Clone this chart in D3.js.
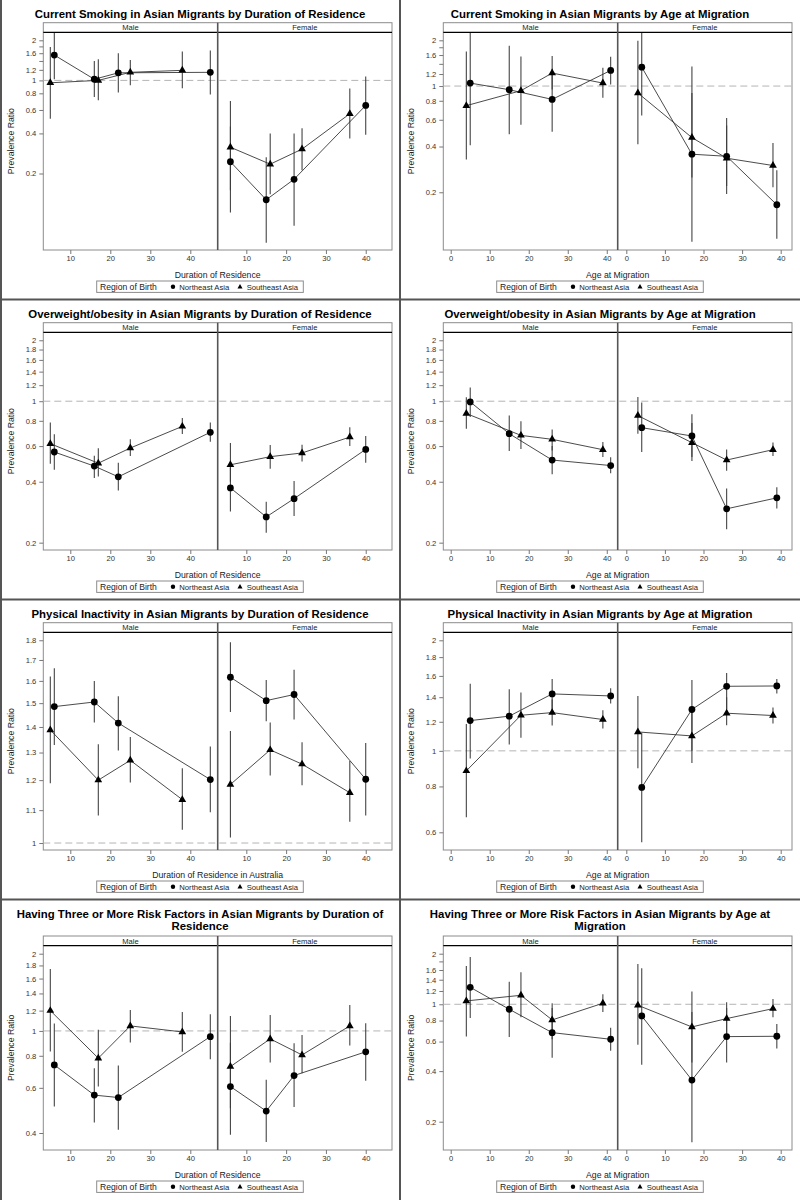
<!DOCTYPE html>
<html><head><meta charset="utf-8">
<script src="https://cdn.jsdelivr.net/npm/d3@7"></script>
<style>
body{margin:0;background:#fff}
svg{display:block}
text{font-family:"Liberation Sans",Arial,Helvetica,sans-serif}
</style>
</head><body>
<svg id="c" width="800" height="1200"></svg>
<script>
// ---------------- DATA ----------------
// rows: [sex, region, x, prevalence ratio, lower CI, upper CI]
const smokingByDuration = [
  ["M","NE",6,1.55,1.02,2.6],["M","NE",16,1.02,0.75,1.40],["M","NE",22,1.14,0.81,1.60],["M","NE",45,1.15,0.785,1.68],
  ["M","SE",5,0.96,0.515,1.78],["M","SE",17,1.0,0.71,1.44],["M","SE",25,1.15,0.92,1.42],["M","SE",38,1.19,0.875,1.65],
  ["F","NE",6,0.245,0.102,0.45],["F","NE",15,0.127,0.0605,0.265],["F","NE",22,0.181,0.081,0.40],["F","NE",40,0.649,0.39,1.07],
  ["F","SE",6,0.315,0.15,0.70],["F","SE",16,0.235,0.14,0.40],["F","SE",24,0.305,0.212,0.438],["F","SE",36,0.562,0.366,0.87]
];
const smokingByAge = [
  ["M","NE",5,1.046,0.408,2.5],["M","NE",15,0.946,0.482,1.84],["M","NE",26,0.817,0.50,1.30],["M","NE",41,1.267,1.025,1.557],
  ["M","SE",4,0.743,0.328,1.69],["M","SE",18,0.932,0.557,1.566],["M","SE",26,1.217,0.95,1.574],["M","SE",39,1.046,0.838,1.32],
  ["F","NE",4,1.332,0.639,2.5],["F","NE",17,0.356,0.0946,0.9],["F","NE",26,0.345,0.195,0.55],["F","NE",39,0.1655,0.099,0.279],
  ["F","SE",3,0.90,0.414,1.99],["F","SE",17,0.458,0.25,1.346],["F","SE",26,0.335,0.22,0.617],["F","SE",38,0.30,0.216,0.422]
];
const overweightByDuration = [
  ["M","NE",6,0.561,0.458,0.686],["M","NE",16,0.478,0.418,0.538],["M","NE",22,0.423,0.362,0.497],["M","NE",45,0.702,0.631,0.784],
  ["M","SE",5,0.617,0.491,0.784],["M","SE",17,0.494,0.425,0.585],["M","SE",25,0.587,0.536,0.648],["M","SE",38,0.751,0.689,0.827],
  ["F","NE",6,0.373,0.285,0.47],["F","NE",15,0.268,0.224,0.319],["F","NE",22,0.330,0.271,0.403],["F","NE",40,0.578,0.497,0.673],
  ["F","SE",6,0.485,0.40,0.621],["F","SE",16,0.532,0.464,0.607],["F","SE",24,0.555,0.504,0.61],["F","SE",36,0.665,0.60,0.743]
];
const overweightByAge = [
  ["M","NE",5,0.992,0.836,1.169],["M","NE",15,0.691,0.567,0.849],["M","NE",26,0.512,0.435,0.60],["M","NE",41,0.481,0.441,0.528],
  ["M","SE",4,0.869,0.732,1.047],["M","SE",18,0.678,0.58,0.796],["M","SE",26,0.648,0.57,0.724],["M","SE",39,0.576,0.530,0.629],
  ["F","NE",4,0.740,0.561,0.985],["F","NE",17,0.673,0.53,0.862],["F","NE",26,0.294,0.233,0.37],["F","NE",39,0.333,0.295,0.376],
  ["F","SE",3,0.849,0.691,1.05],["F","SE",17,0.624,0.506,0.78],["F","SE",26,0.512,0.453,0.578],["F","SE",38,0.576,0.536,0.626]
];
const inactivityByDuration = [
  ["M","NE",6,1.485,1.329,1.66],["M","NE",16,1.505,1.418,1.60],["M","NE",22,1.416,1.308,1.53],["M","NE",45,1.202,1.093,1.323],
  ["M","SE",5,1.388,1.189,1.62],["M","SE",17,1.20,1.083,1.332],["M","SE",25,1.271,1.192,1.36],["M","SE",38,1.134,1.039,1.242],
  ["F","NE",6,1.617,1.462,1.789],["F","NE",15,1.511,1.423,1.604],["F","NE",22,1.538,1.431,1.653],["F","NE",40,1.203,1.083,1.336],
  ["F","SE",6,1.185,1.016,1.384],["F","SE",16,1.31,1.216,1.418],["F","SE",24,1.257,1.182,1.339],["F","SE",36,1.157,1.064,1.268]
];
const inactivityByAge = [
  ["M","NE",5,1.209,0.953,1.524],["M","NE",15,1.243,1.04,1.472],["M","NE",26,1.429,1.29,1.57],["M","NE",41,1.411,1.345,1.48],
  ["M","SE",4,0.882,0.659,1.184],["M","SE",18,1.25,1.085,1.441],["M","SE",26,1.271,1.172,1.38],["M","SE",39,1.217,1.15,1.29],
  ["F","NE",4,0.795,0.564,1.12],["F","NE",17,1.296,1.0,1.56],["F","NE",26,1.499,1.3,1.63],["F","NE",39,1.502,1.432,1.57],
  ["F","SE",3,1.126,0.897,1.411],["F","SE",17,1.098,0.926,1.3],["F","SE",26,1.266,1.175,1.4],["F","SE",38,1.248,1.187,1.312]
];
const threeRiskByDuration = [
  ["M","NE",6,0.737,0.508,1.068],["M","NE",16,0.562,0.44,0.716],["M","NE",22,0.55,0.412,0.733],["M","NE",45,0.95,0.776,1.161],
  ["M","SE",5,1.2,0.831,1.743],["M","SE",17,0.783,0.607,1.01],["M","SE",25,1.046,0.901,1.207],["M","SE",38,0.991,0.829,1.186],
  ["F","NE",6,0.607,0.394,0.9],["F","NE",15,0.487,0.369,0.645],["F","NE",22,0.67,0.505,0.895],["F","NE",40,0.829,0.639,1.071],
  ["F","SE",6,0.726,0.5,1.144],["F","SE",16,0.931,0.753,1.154],["F","SE",24,0.806,0.684,0.965],["F","SE",36,1.046,0.877,1.262]
];
const threeRiskByAge = [
  ["M","NE",5,1.262,0.829,1.913],["M","NE",15,0.934,0.639,1.364],["M","NE",26,0.678,0.481,0.95],["M","NE",41,0.619,0.528,0.726],
  ["M","SE",4,1.047,0.642,1.691],["M","SE",18,1.131,0.837,1.55],["M","SE",26,0.807,0.62,1.014],["M","SE",39,1.014,0.9,1.147],
  ["F","NE",4,0.852,0.437,1.638],["F","NE",17,0.354,0.151,0.9],["F","NE",26,0.642,0.45,0.95],["F","NE",39,0.645,0.545,0.764],
  ["F","SE",3,0.986,0.575,1.738],["F","SE",17,0.733,0.45,1.19],["F","SE",26,0.822,0.66,1.028],["F","SE",38,0.942,0.837,1.076]
];

// tick values / labels
const ticksWide = [0.2,0.4,0.6,0.8,1,1.2,1.4,1.6,1.8,2];
const labelsSmoking = [0.2,0.4,0.6,0.8,1,1.2,1.6,2];
const labelsWide = [0.2,0.4,0.6,0.8,1,1.2,1.4,1.6,1.8,2];
const ticksInactDur = [1,1.1,1.2,1.3,1.4,1.5,1.6,1.7,1.8];
const ticksInactAge = [0.6,0.8,1,1.2,1.4,1.6,1.8,2];
const ticksThreeDur = [0.4,0.6,0.8,1,1.2,1.4,1.6,1.8,2];
const labelsThreeAge = [0.2,0.4,0.6,0.8,1,1.2,1.4,1.6,2];
const durationTicks = [10,20,30,40];
const ageTicks = [0,10,20,30,40];
const sexes = [["M","Male"],["F","Female"]];
const regions = [["NE","Northeast Asia"],["SE","Southeast Asia"]];

// ---------------- LAYOUT ----------------
const xDomains = {
  dur: {M:[3.25,46.85], F:[2.81,46.6]},
  age: {M:[-1.9,42.8], F:[-2.23,42.93]}
};
const panels = [
  {col:0,row:0,title:["Current Smoking in Asian Migrants by Duration of Residence"],xlab:"Duration of Residence",kind:"dur",data:smokingByDuration,ticks:ticksWide,labels:labelsSmoking,ydom:[0.0533,2.297]},
  {col:1,row:0,title:["Current Smoking in Asian Migrants by Age at Migration"],xlab:"Age at Migration",kind:"age",data:smokingByAge,ticks:ticksWide,labels:labelsSmoking,ydom:[0.0834,2.258]},
  {col:0,row:1,title:["Overweight/obesity in Asian Migrants by Duration of Residence"],xlab:"Duration of Residence",kind:"dur",data:overweightByDuration,ticks:ticksWide,labels:labelsWide,ydom:[0.184,2.19]},
  {col:1,row:1,title:["Overweight/obesity in Asian Migrants by Age at Migration"],xlab:"Age at Migration",kind:"age",data:overweightByAge,ticks:ticksWide,labels:labelsWide,ydom:[0.184,2.19]},
  {col:0,row:2,title:["Physical Inactivity in Asian Migrants by Duration of Residence"],xlab:"Duration of Residence in Australia",kind:"dur",data:inactivityByDuration,ticks:ticksInactDur,labels:ticksInactDur,ydom:[0.98,1.842]},
  {col:1,row:2,title:["Physical Inactivity in Asian Migrants by Age at Migration"],xlab:"Age at Migration",kind:"age",data:inactivityByAge,ticks:ticksInactAge,labels:ticksInactAge,ydom:[0.537,2.103]},
  {col:0,row:3,title:["Having Three or More Risk Factors in Asian Migrants by Duration of","Residence"],xlab:"Duration of Residence",kind:"dur",data:threeRiskByDuration,ticks:ticksThreeDur,labels:ticksThreeDur,ydom:[0.3434,2.149]},
  {col:1,row:3,title:["Having Three or More Risk Factors in Asian Migrants by Age at","Migration"],xlab:"Age at Migration",kind:"age",data:threeRiskByAge,ticks:ticksWide,labels:labelsThreeAge,ydom:[0.1357,2.232]}
];

const svg = d3.select("#c");
const tri = d3.symbol().type(d3.symbolTriangle).size(26);
const triSmall = d3.symbol().type(d3.symbolTriangle).size(11);

panels.forEach((p, pi) => {
  const g = svg.append("g").attr("transform", `translate(${p.col*400},${p.row*300})`);
  const two = p.title.length > 1;
  const stripTop = two ? 36 : 22.7, top = two ? 45.7 : 32.3, bottom = 250;
  const left = 43.3, right = 392, mid = 217.7;

  p.title.forEach((t, k) => {
    g.append("text").attr("x", 200).attr("y", 17.6 + k*12.4)
      .attr("text-anchor", "middle").attr("font-weight", "bold")
      .attr("font-size", 11.4).attr("fill", "#000").text(t);
  });

  const y = d3.scaleLog().domain(p.ydom).range([bottom, top]);

  // frame
  g.append("rect").attr("x", left).attr("y", stripTop).attr("width", right-left).attr("height", bottom-stripTop)
    .attr("fill", "#fff").attr("stroke", "#8c8c8c").attr("stroke-width", 1);

  // y axis
  const ya = g.append("g").attr("transform", `translate(${left},0)`)
    .call(d3.axisLeft(y).tickValues(p.ticks).tickSize(4).tickPadding(3)
      .tickFormat(d => p.labels.includes(d) ? String(d) : ""));
  ya.select(".domain").remove();
  ya.selectAll(".tick line").attr("stroke", "#777");
  ya.selectAll(".tick text").attr("font-size", 7.6).attr("fill", "#333").attr("font-family", '"Liberation Sans",Arial,sans-serif');

  g.append("text").attr("transform", `translate(13.5,${(top+bottom)/2}) rotate(-90)`)
    .attr("text-anchor", "middle").attr("font-size", 8.7).attr("fill", "#222").text("Prevalence Ratio");

  // reference line at 1
  g.append("line").attr("x1", left).attr("x2", right).attr("y1", y(1)).attr("y2", y(1))
    .attr("stroke", "#b4b4b4").attr("stroke-width", 1).attr("stroke-dasharray", "7,4");

  sexes.forEach(([sx, sname], fi) => {
    const fx0 = fi === 0 ? left : mid, fx1 = fi === 0 ? mid : right;
    const x = d3.scaleLinear().domain(xDomains[p.kind][sx]).range([fx0, fx1]);
    const xa = g.append("g").attr("transform", `translate(0,${bottom})`)
      .call(d3.axisBottom(x).tickValues(p.kind === "dur" ? durationTicks : ageTicks).tickSize(4).tickPadding(2));
    xa.select(".domain").remove();
    xa.selectAll(".tick line").attr("stroke", "#777");
    xa.selectAll(".tick text").attr("font-size", 7.6).attr("fill", "#333").attr("font-family", '"Liberation Sans",Arial,sans-serif');

    // strip
    g.append("text").attr("x", (fx0+fx1)/2).attr("y", (stripTop+top)/2 + 2.7)
      .attr("text-anchor", "middle").attr("font-size", 7.6).attr("fill", "#222").text(sname);

    const cid = `clip${pi}_${fi}`;
    g.append("clipPath").attr("id", cid).append("rect")
      .attr("x", fx0).attr("y", top).attr("width", fx1-fx0).attr("height", bottom-top);
    const pg = g.append("g").attr("clip-path", `url(#${cid})`);

    regions.forEach(([rk]) => {
      const rows = p.data.filter(d => d[0] === sx && d[1] === rk).sort((a,b) => a[2]-b[2]);
      pg.selectAll(null).data(rows).enter().append("line")
        .attr("x1", d => x(d[2])).attr("x2", d => x(d[2]))
        .attr("y1", d => y(d[4])).attr("y2", d => y(d[5]))
        .attr("stroke", "#3c3c3c").attr("stroke-width", 1.05);
    });
    regions.forEach(([rk]) => {
      const rows = p.data.filter(d => d[0] === sx && d[1] === rk).sort((a,b) => a[2]-b[2]);
      pg.append("path").datum(rows)
        .attr("d", d3.line().x(d => x(d[2])).y(d => y(d[3])))
        .attr("fill", "none").attr("stroke", "#2a2a2a").attr("stroke-width", 0.85);
    });
    regions.forEach(([rk]) => {
      const rows = p.data.filter(d => d[0] === sx && d[1] === rk);
      if (rk === "NE") {
        pg.selectAll(null).data(rows).enter().append("circle")
          .attr("cx", d => x(d[2])).attr("cy", d => y(d[3])).attr("r", 3.4).attr("fill", "#000");
      } else {
        pg.selectAll(null).data(rows).enter().append("path")
          .attr("transform", d => `translate(${x(d[2])},${y(d[3])})`).attr("d", tri).attr("fill", "#000");
      }
    });
  });

  // strip bottom line & facet divider
  g.append("line").attr("x1", left).attr("x2", right).attr("y1", top).attr("y2", top)
    .attr("stroke", "#000").attr("stroke-width", 1.3);
  g.append("line").attr("x1", mid).attr("x2", mid).attr("y1", stripTop).attr("y2", bottom)
    .attr("stroke", "#555").attr("stroke-width", 1.6);

  // x axis title
  g.append("text").attr("x", (left+right)/2).attr("y", 278.2).attr("text-anchor", "middle")
    .attr("font-size", 8.7).attr("fill", "#222").text(p.xlab);

  // legend
  const lg = g.append("g");
  lg.append("rect").attr("x", 96.7).attr("y", 281).attr("width", 206.6).attr("height", 11.4)
    .attr("fill", "#fff").attr("stroke", "#8c8c8c").attr("stroke-width", 1);
  lg.append("text").attr("x", 100).attr("y", 289.9).attr("font-size", 8.6).attr("fill", "#222").text("Region of Birth");
  lg.append("circle").attr("cx", 173).attr("cy", 286.7).attr("r", 2.2).attr("fill", "#000");
  lg.append("text").attr("x", 179.3).attr("y", 289.5).attr("font-size", 7.7).attr("fill", "#222").text(regions[0][1]);
  lg.append("path").attr("transform", "translate(240,287)").attr("d", triSmall).attr("fill", "#000");
  lg.append("text").attr("x", 246.7).attr("y", 289.5).attr("font-size", 7.7).attr("fill", "#222").text(regions[1][1]);
});

// panel separators
const sep = svg.append("g").attr("stroke", "#555").attr("stroke-width", 2);
sep.append("line").attr("x1", 400).attr("x2", 400).attr("y1", 0).attr("y2", 1200);
[299.5, 599.5, 899.5].forEach(v => sep.append("line").attr("x1", 0).attr("x2", 800).attr("y1", v).attr("y2", v));
sep.append("line").attr("x1", 1).attr("x2", 1).attr("y1", 0).attr("y2", 1200);
</script>
</body></html>
